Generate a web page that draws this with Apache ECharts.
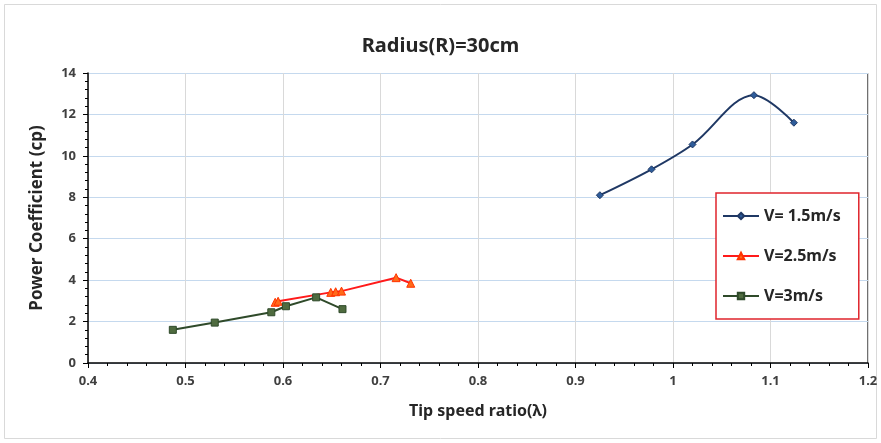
<!DOCTYPE html>
<html><head><meta charset="utf-8">
<script src="https://cdn.jsdelivr.net/npm/echarts@6/dist/echarts.min.js"></script>
<style>html,body{margin:0;padding:0;background:#fff}#c{width:881px;height:443px}</style>
</head><body><div id="c"></div>
<script>
var titleText = "Radius(R)=30cm";
var xName = "Tip speed ratio(λ)";
var yName = "Power Coefficient (cp)";
var seriesNames = ["V= 1.5m/s", "V=2.5m/s", "V=3m/s"];
var v15x = [0.925, 0.978, 1.020, 1.083, 1.124];
var v15y = [8.1, 9.35, 10.55, 12.93, 11.6];
var v25x = [0.592, 0.595, 0.649, 0.654, 0.660, 0.716, 0.731];
var v25y = [2.93, 2.98, 3.41, 3.44, 3.47, 4.12, 3.85];
var v3x = [0.487, 0.530, 0.588, 0.603, 0.634, 0.661];
var v3y = [1.6, 1.95, 2.45, 2.74, 3.17, 2.6];

function pairs(xs, ys){ return xs.map(function(x,i){return [x, ys[i]];}); }

var chart = echarts.init(document.getElementById('c'));
var font = 'Noto Sans';
chart.setOption({
  backgroundColor: '#fff',
  animation: false,
  graphic: [
    {type:'rect', shape:{x:4.5,y:4.5,width:872,height:434}, style:{fill:'none', stroke:'#d9d9d9', lineWidth:1}, silent:true},
    {type:'line', shape:{x1:868, y1:73, x2:868, y2:363}, style:{stroke:'#404040', lineWidth:1.5}, silent:true}
  ],
  title: {text: titleText, left: 'center', top: 31, textStyle:{fontFamily:font, fontSize:20, fontWeight:'bold', color:'#262626'}},
  grid: {left: 88, right: 13, top: 73, bottom: 80},
  legend: {
    orient: 'vertical', left: 716, top: 193,
    padding: [15, 18, 15, 6], itemGap: 24, itemWidth: 36, itemHeight: 8,
    borderColor: '#e0242c', borderWidth: 1.5, backgroundColor:'#fff',
    textStyle:{fontFamily:font, fontSize:16, fontWeight:'bold', color:'#262626'},
    data: seriesNames
  },
  xAxis: {
    type: 'value', min: 0.4, max: 1.2, interval: 0.1,
    name: xName, nameLocation: 'middle', nameGap: 40,
    nameTextStyle:{fontFamily:font, fontSize:16, fontWeight:'bold', color:'#262626'},
    axisLine:{onZero:false, lineStyle:{color:'#000', width:1.5}},
    axisTick:{show:true, length:5, lineStyle:{color:'#000'}},
    minorTick:{show:true, splitNumber:5, length:3, lineStyle:{color:'#000'}},
    axisLabel:{fontFamily:font, fontSize:13, fontWeight:'bold', color:'#404040', margin:12,
      formatter:function(v){return String(Math.round(v*10)/10);}},
    splitLine:{show:true, lineStyle:{color:'#d9d9d9', width:1}}
  },
  yAxis: {
    type: 'value', min: 0, max: 14, interval: 2,
    name: yName, nameLocation: 'middle', nameGap: 42,
    nameTextStyle:{fontFamily:font, fontSize:17, fontWeight:'bold', color:'#262626'},
    axisLine:{show:true, lineStyle:{color:'#000', width:1.5}},
    axisTick:{show:true, length:5, lineStyle:{color:'#000'}},
    minorTick:{show:true, splitNumber:5, length:3, lineStyle:{color:'#000'}},
    axisLabel:{fontFamily:font, fontSize:13, fontWeight:'bold', color:'#404040', margin:12},
    splitLine:{show:true, lineStyle:{color:'#c5d9ee', width:1}}
  },
  series: [
    {name: seriesNames[0], type:'line', smooth:0.35, data: pairs(v15x, v15y),
     symbol:'diamond', symbolSize:7, lineStyle:{color:'#1f3864', width:2},
     itemStyle:{color:'#2e5c9a', borderColor:'#1f3864', borderWidth:1}},
    {name: seriesNames[1], type:'line', smooth:false, data: pairs(v25x, v25y),
     symbol:'triangle', symbolSize:8, lineStyle:{color:'#ff1a1a', width:2},
     itemStyle:{color:'#ff6a1a', borderColor:'#ff3300', borderWidth:1}},
    {name: seriesNames[2], type:'line', smooth:false, data: pairs(v3x, v3y),
     symbol:'rect', symbolSize:7, lineStyle:{color:'#2f4a2a', width:2},
     itemStyle:{color:'#4f6b3f', borderColor:'#2f4a2a', borderWidth:1}}
  ]
});
</script></body></html>
